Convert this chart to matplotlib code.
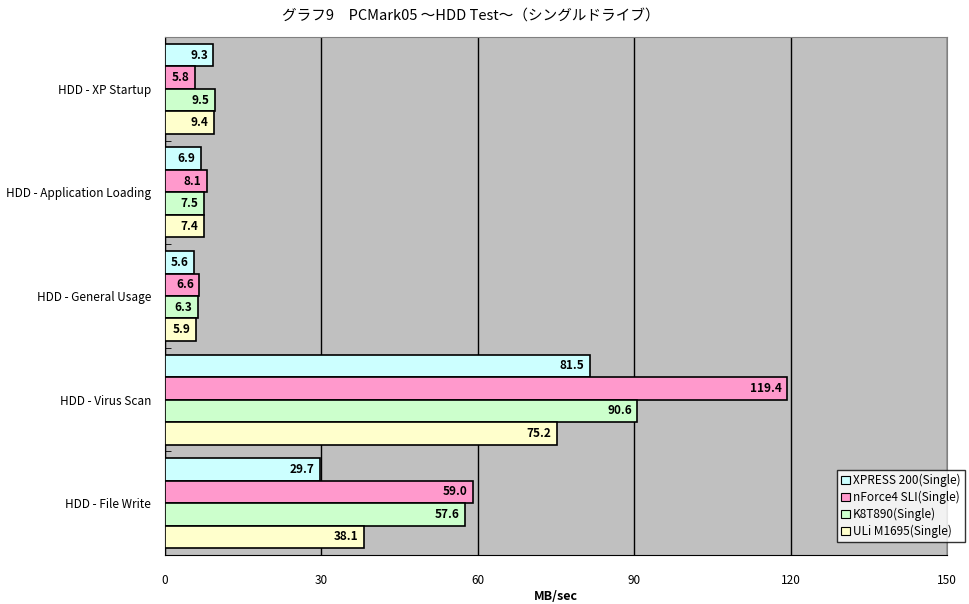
import matplotlib.pyplot as plt
import numpy as np

plt.rcParams['font.family'] = ['Noto Sans CJK JP', 'DejaVu Sans']

categorias = ["HDD - XP Startup", "HDD - Application Loading", "HDD - General Usage",
              "HDD - Virus Scan", "HDD - File Write"]
series = ["XPRESS 200(Single)", "nForce4 SLI(Single)", "K8T890(Single)", "ULi M1695(Single)"]
xpress = [9.3, 6.9, 5.6, 81.5, 29.7]
nforce = [5.8, 8.1, 6.6, 119.4, 59.0]
k8t890 = [9.5, 7.5, 6.3, 90.6, 57.6]
uli = [9.4, 7.4, 5.9, 75.2, 38.1]
cores = ["#CCFFFF", "#FF99CC", "#CCFFCC", "#FFFFCC"]

fig = plt.figure(figsize=(9.7, 6.04), dpi=100)
ax = fig.add_axes([165 / 970, 1 - 555 / 604, 782 / 970, 518 / 604])
ax.set_facecolor("#C0C0C0")

y = np.arange(len(categorias))
h = 0.217
dados = [xpress, nforce, k8t890, uli]
for i, (vals, cor, nome) in enumerate(zip(dados, cores, series)):
    pos = y - 1.5 * h + i * h
    bars = ax.barh(pos, vals, height=h, color=cor, edgecolor="black", linewidth=1.2,
                   label=nome, zorder=3)
    for b, v in zip(bars, vals):
        ax.annotate(f"{v:.1f}", (v, b.get_y() + b.get_height() / 2),
                    xytext=(-4, 0), textcoords="offset points",
                    ha="right", va="center", fontsize=8.5, fontweight="bold", zorder=4)

ax.set_xlim(0, 150)
ax.set_ylim(len(categorias) - 0.5, -0.5)
ax.set_xticks([0, 30, 60, 90, 120, 150])
ax.set_yticks(y)
ax.set_yticklabels(categorias, fontsize=8.5)
ax.set_yticks(np.arange(-0.5, len(categorias)), minor=True)
ax.tick_params(axis="y", which="major", length=0, pad=10)
ax.tick_params(axis="y", which="minor", length=4, direction="in", color="black")
ax.tick_params(axis="x", length=0, pad=14, labelsize=8.5)
ax.grid(axis="x", color="black", linewidth=1, zorder=1)
for s in ax.spines.values():
    s.set_color("#808080")
ax.spines["left"].set_color("black")
ax.spines["bottom"].set_color("black")

ax.set_xlabel("MB/sec", fontsize=9, fontweight="bold", labelpad=2)
fig.suptitle("グラフ9　PCMark05 ～HDD Test～（シングルドライブ）", fontsize=10.5, y=0.985, x=0.485)

leg = ax.legend(loc="lower right", bbox_to_anchor=(965 / 970, 1 - 542 / 604),
                bbox_transform=fig.transFigure, fontsize=8.5, frameon=True, fancybox=False,
                handlelength=0.7, handleheight=0.7, handletextpad=0.3,
                borderpad=0.35, labelspacing=0.3, borderaxespad=0)
leg.get_frame().set_edgecolor("black")
leg.get_frame().set_linewidth(1)
for p in leg.get_patches():
    p.set_linewidth(0.8)

fig.savefig("out.png", dpi=100)
